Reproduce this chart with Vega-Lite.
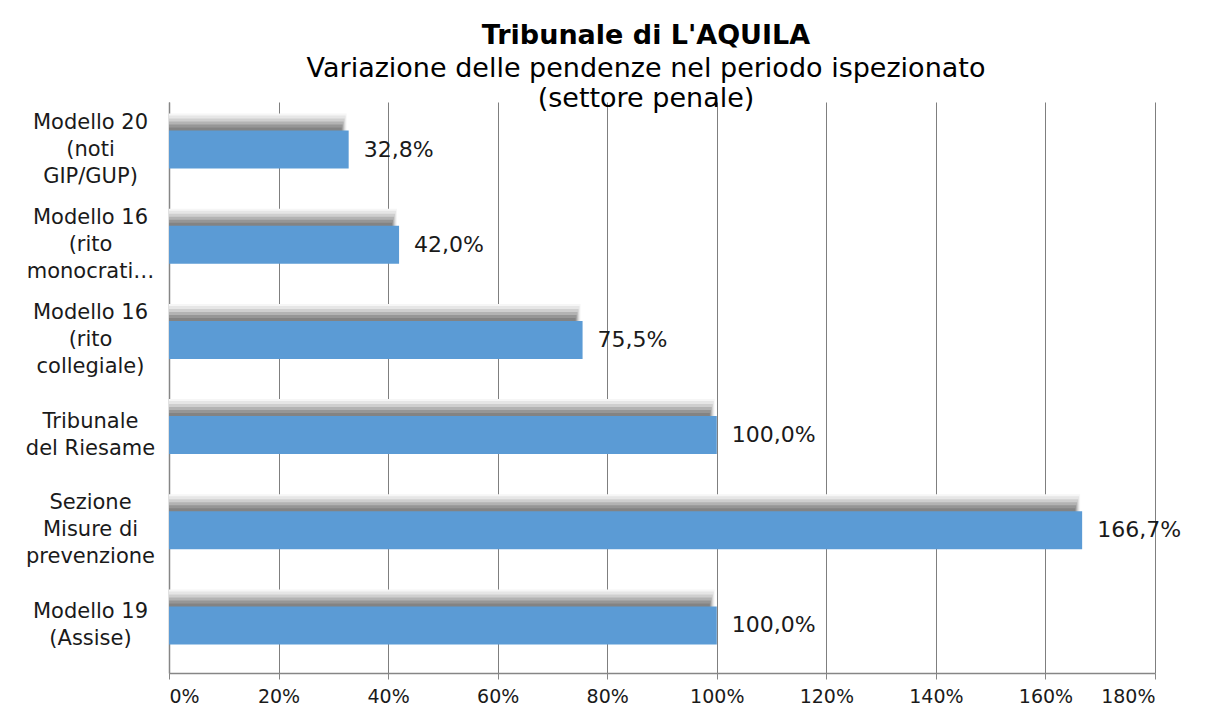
{
  "$schema": "https://vega.github.io/schema/vega-lite/v6.json",
  "autosize": {"type": "none"},
  "width": 986,
  "height": 571,
  "padding": {"left": 169, "top": 102, "right": 53, "bottom": 39},
  "background": "white",
  "title": {
    "text": "Tribunale di L'AQUILA",
    "subtitle": ["Variazione delle pendenze nel periodo ispezionato", "(settore penale)"],
    "anchor": "middle",
    "frame": "group",
    "dx": -16,
    "offset": -11,
    "font": "DejaVu Sans",
    "fontSize": 27,
    "fontWeight": "bold",
    "color": "#000000",
    "subtitleFont": "DejaVu Sans",
    "subtitleFontSize": 27,
    "subtitleColor": "#000000",
    "subtitleLineHeight": 30,
    "subtitlePadding": 6
  },
  "data": {
    "values": [
      {"categoria": "Modello 20|(noti|GIP/GUP)", "variazione": 0.328},
      {"categoria": "Modello 16|(rito|monocrati…", "variazione": 0.42},
      {"categoria": "Modello 16|(rito|collegiale)", "variazione": 0.755},
      {"categoria": "Tribunale|del Riesame", "variazione": 1.0},
      {"categoria": "Sezione|Misure di|prevenzione", "variazione": 1.667},
      {"categoria": "Modello 19|(Assise)", "variazione": 1.0}
    ]
  },
  "encoding": {
    "y": {
      "field": "categoria",
      "type": "nominal",
      "sort": null,
      "scale": {"paddingInner": 0.6, "paddingOuter": 0.3},
      "axis": {
        "title": null,
        "labelExpr": "split(datum.label, '|')",
        "labelAlign": "center",
        "labelBaseline": "middle",
        "labelOffset": {"condition": {"test": "length(split(datum.label, '|')) == 3", "value": -27}, "value": -13.5},
        "labelPadding": 79,
        "labelLineHeight": 27,
        "labelFont": "DejaVu Sans",
        "labelFontSize": 21,
        "labelColor": "#1a1a1a",
        "labelLimit": 300,
        "ticks": false,
        "tickSize": 0,
        "domainColor": "#868686",
        "domainWidth": 1.5
      }
    },
    "x": {
      "field": "variazione",
      "type": "quantitative",
      "scale": {"domain": [0, 1.8], "nice": false},
      "axis": {
        "title": null,
        "values": [0, 0.2, 0.4, 0.6, 0.8, 1.0, 1.2, 1.4, 1.6, 1.8],
        "format": ".0%",
        "grid": true,
        "gridColor": "#7f7f7f",
        "gridWidth": 1,
        "domainColor": "#868686",
        "domainWidth": 1.5,
        "tickColor": "#868686",
        "tickSize": 6,
        "labelPadding": 8,
        "labelFont": "DejaVu Sans",
        "labelFontSize": 19,
        "labelColor": "#1a1a1a"
      }
    }
  },
  "layer": [
    {"mark": {"type": "bar", "color": "#f6f6f6", "yOffset": -17, "xOffset": -2, "clip": true}},
    {"mark": {"type": "bar", "color": "#e6e6e6", "yOffset": -15, "xOffset": -3, "clip": true}},
    {"mark": {"type": "bar", "color": "#cfcfcf", "yOffset": -12, "xOffset": -4, "clip": true}},
    {"mark": {"type": "bar", "color": "#b3b3b3", "yOffset": -9, "xOffset": -5, "clip": true}},
    {"mark": {"type": "bar", "color": "#969696", "yOffset": -6, "xOffset": -6, "clip": true}},
    {"mark": {"type": "bar", "color": "#838383", "yOffset": -3, "xOffset": -7, "clip": true}},
    {"mark": {"type": "bar", "color": "#5b9bd5"}},
    {
      "mark": {"type": "text", "align": "left", "baseline": "middle", "dx": 15, "font": "DejaVu Sans", "fontSize": 22, "color": "#1a1a1a"},
      "encoding": {"text": {"field": "variazione", "type": "quantitative", "format": ".1%"}}
    }
  ],
  "config": {
    "view": {"stroke": null},
    "locale": {"number": {"decimal": ",", "thousands": ".", "grouping": [3], "currency": ["", " €"]}}
  }
}
